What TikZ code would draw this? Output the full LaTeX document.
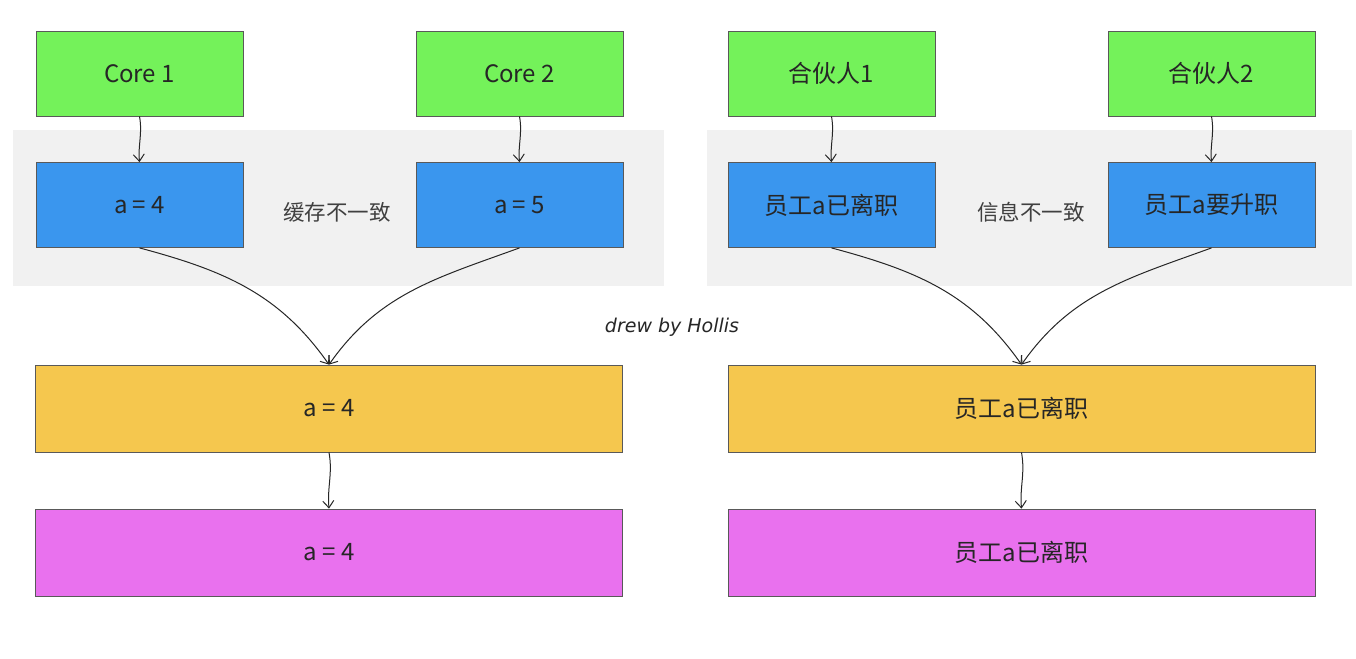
\documentclass[tikz,border=0pt]{standalone}
\usepackage{fontspec}
\setmainfont{Noto Sans CJK SC}
\newfontfamily\signfont{DejaVu Sans}
\usetikzlibrary{arrows.meta}

\definecolor{coregreen}{HTML}{74F25A}
\definecolor{cacheblue}{HTML}{3A96EE}
\definecolor{memyellow}{HTML}{F5C74E}
\definecolor{storepink}{HTML}{E971EE}
\definecolor{bandgray}{HTML}{F1F1F1}

\begin{document}
\begin{tikzpicture}
[x=1pt, y=1pt,
 every node/.style={font=\fontsize{24}{28}\selectfont, text=black!85},
 box/.style={draw=black!65, line width=0.8pt, minimum width=207pt, minimum height=85pt, inner sep=0pt},
 wide/.style={box, minimum width=587pt, minimum height=87pt},
 link/.style={-{Straight Barb[length=7pt, width=11pt]}, line width=1pt, black!85},
 gaptext/.style={font=\fontsize{21.5}{25}\selectfont, text=black!75}]
\useasboundingbox (0,0) rectangle (1356,-658);
\fill[white] (0,0) rectangle (1356,-658);

% gray bands behind the caches
\fill[bandgray] (13,-130) rectangle (664,-286);
\fill[bandgray] (707,-130) rectangle (1352,-286);

% left: cores and caches
\node [box, fill=coregreen] (core1) at (139.5,-73.5) {Core 1};
\node [box, fill=coregreen] (core2) at (519.5,-73.5) {Core 2};
\node [box, fill=cacheblue] (cache1) at (139.5,-205) {a = 4};
\node [box, fill=cacheblue] (cache2) at (519.5,-205) {a = 5};
\node [gaptext] (gapL) at (337,-212) {缓存不一致};
\node [wide, fill=memyellow] (memL) at (329,-408.5) {a = 4};
\node [wide, fill=storepink] (storeL) at (329,-552.5) {a = 4};

% right: partners and their views
\node [box, fill=coregreen] (partner1) at (831.5,-73.5) {合伙人1};
\node [box, fill=coregreen] (partner2) at (1211.5,-73.5) {合伙人2};
\node [box, fill=cacheblue] (view1) at (831.5,-205) {员工a已离职};
\node [box, fill=cacheblue] (view2) at (1211.5,-205) {员工a要升职};
\node [gaptext] (gapR) at (1031,-212) {信息不一致};
\node [wide, fill=memyellow] (memR) at (1021.5,-408.5) {员工a已离职};
\node [wide, fill=storepink] (storeR) at (1021.5,-552.5) {员工a已离职};

\node [font=\signfont\itshape\fontsize{19}{22}\selectfont] (sign) at (672,-327) {drew by Hollis};

\draw [link] (core1.south) to [out=-80, in=95] (cache1.north);
\draw [link] (core2.south) to [out=-80, in=95] (cache2.north);
\draw [link] (cache1.south) to [out=-15, in=125] (memL.north);
\draw [link] (cache2.south) to [out=200, in=55] (memL.north);
\draw [link] (memL.south) to [out=-80, in=95] (storeL.north);

\draw [link] (partner1.south) to [out=-80, in=95] (view1.north);
\draw [link] (partner2.south) to [out=-80, in=95] (view2.north);
\draw [link] (view1.south) to [out=-15, in=125] (memR.north);
\draw [link] (view2.south) to [out=200, in=55] (memR.north);
\draw [link] (memR.south) to [out=-80, in=95] (storeR.north);
\end{tikzpicture}
\end{document}
